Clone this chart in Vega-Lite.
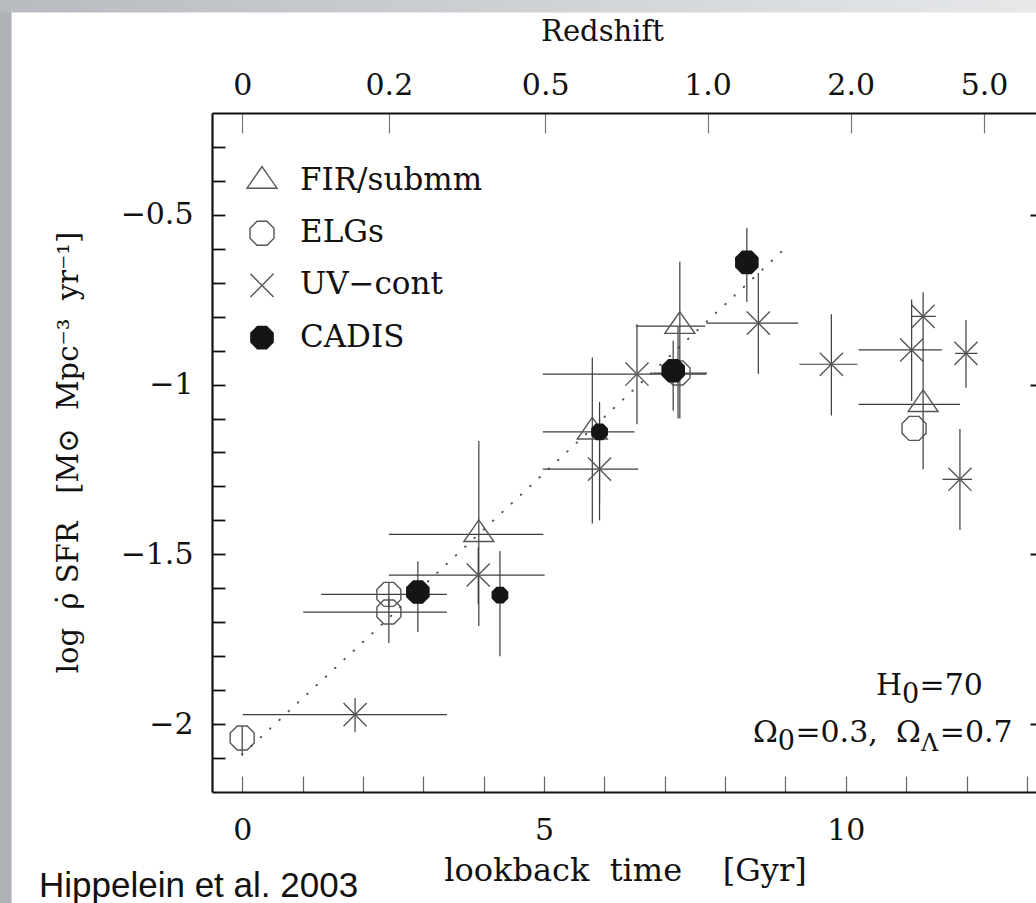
{
  "$schema": "https://vega.github.io/schema/vega-lite/v6.json",
  "width": 824,
  "height": 679,
  "autosize": {"type": "none"},
  "padding": {"left": 212, "top": 113, "right": 0, "bottom": 111},
  "background": "white",
  "config": {
    "view": {"stroke": null},
    "axis": {
      "grid": false,
      "labelFont": "DejaVu Serif",
      "labelFontSize": 30,
      "labelColor": "#111",
      "titleFont": "DejaVu Serif",
      "titleFontSize": 30,
      "titleFontWeight": "normal",
      "titleColor": "#111",
      "labelFlush": false,
      "labelOverlap": false,
      "labelBound": false
    },
    "text": {"font": "DejaVu Serif", "fontSize": 30, "color": "#111", "baseline": "alphabetic", "align": "left"}
  },
  "datasets": {
    "points": [
      {"group": "FIR/submm", "t": 3.92, "y": -1.441, "tlo": 2.43, "thi": 4.99, "ylo": -1.711, "yhi": -1.166},
      {"group": "FIR/submm", "t": 5.80, "y": -1.139, "tlo": 4.98, "thi": 6.50, "ylo": -1.409, "yhi": -0.920},
      {"group": "FIR/submm", "t": 7.25, "y": -0.828, "tlo": 6.52, "thi": 7.67, "ylo": -1.10, "yhi": -0.638},
      {"group": "FIR/submm", "t": 11.28, "y": -1.058, "tlo": 10.21, "thi": 11.89, "ylo": -1.249, "yhi": -0.87},
      {"group": "ELGs", "t": 0, "y": -2.041, "ylo": -2.09, "yhi": -2.006},
      {"group": "ELGs", "t": 2.43, "y": -1.618, "tlo": 1.31, "thi": 3.39, "ylo": -1.66, "yhi": -1.582},
      {"group": "ELGs", "t": 2.43, "y": -1.670, "tlo": 1.01, "thi": 3.39, "ylo": -1.761, "yhi": -1.63},
      {"group": "ELGs", "t": 7.22, "y": -0.966, "tlo": 6.80, "thi": 7.70, "ylo": -1.10, "yhi": -0.83},
      {"group": "ELGs", "t": 11.13, "y": -1.129},
      {"group": "UV−cont", "t": 1.87, "y": -1.972, "tlo": 0.01, "thi": 3.39, "ylo": -2.023, "yhi": -1.923},
      {"group": "UV−cont", "t": 3.91, "y": -1.561, "tlo": 2.43, "thi": 5.01, "ylo": -1.647, "yhi": -1.48},
      {"group": "UV−cont", "t": 5.92, "y": -1.249, "tlo": 4.98, "thi": 6.56, "ylo": -1.40, "yhi": -1.10},
      {"group": "UV−cont", "t": 6.54, "y": -0.969, "tlo": 4.98, "thi": 7.69, "ylo": -1.117, "yhi": -0.822},
      {"group": "UV−cont", "t": 8.55, "y": -0.819, "tlo": 7.69, "thi": 9.21, "ylo": -0.969, "yhi": -0.671},
      {"group": "UV−cont", "t": 9.76, "y": -0.940, "tlo": 9.23, "thi": 10.19, "ylo": -1.091, "yhi": -0.793},
      {"group": "UV−cont", "t": 11.09, "y": -0.898, "tlo": 10.21, "thi": 11.59, "ylo": -1.048, "yhi": -0.749},
      {"group": "UV−cont", "t": 11.28, "y": -0.799, "tlo": 11.09, "thi": 11.49, "ylo": -0.87, "yhi": -0.728},
      {"group": "UV−cont", "t": 11.99, "y": -0.908, "tlo": 11.81, "thi": 12.18, "ylo": -1.009, "yhi": -0.810},
      {"group": "UV−cont", "t": 11.89, "y": -1.279, "tlo": 11.60, "thi": 12.09, "ylo": -1.428, "yhi": -1.131},
      {"group": "CADIS", "line": "Hα", "t": 2.91, "y": -1.611, "ylo": -1.729, "yhi": -1.520},
      {"group": "CADIS", "line": "[OIII]", "t": 4.27, "y": -1.620, "ylo": -1.80, "yhi": -1.490},
      {"group": "CADIS", "line": "[OIII]", "t": 5.92, "y": -1.139, "ylo": -1.348, "yhi": -1.051},
      {"group": "CADIS", "line": "[OII]", "t": 7.14, "y": -0.959, "ylo": -1.077, "yhi": -0.871},
      {"group": "CADIS", "line": "[OII]", "t": 8.36, "y": -0.640, "ylo": -0.757, "yhi": -0.539}
    ],
    "fit": [
      {"t": 0, "y": -2.09},
      {"t": 9.0, "y": -0.598}
    ]
  },
  "resolve": {"axis": {"x": "independent", "y": "independent"}},
  "layer": [
    {
      "data": {"values": [{}]},
      "mark": {"type": "rect", "fill": "#aeb2b6"},
      "encoding": {
        "x": {"datum": -4.02, "type": "quantitative", "axis": null},
        "x2": {"datum": -3.82},
        "y": {"datum": 0.14, "type": "quantitative", "axis": null},
        "y2": {"datum": -2.53}
      }
    },
    {
      "data": {"values": [{}]},
      "mark": {"type": "rect", "fill": {"gradient": "linear", "stops": [{"offset": 0, "color": "#b7bbbf"}, {"offset": 1, "color": "#e6e8ea"}]}},
      "encoding": {
        "x": {"datum": -4.02, "type": "quantitative", "axis": null},
        "x2": {"datum": 13.2},
        "y": {"datum": 0.14, "type": "quantitative", "axis": null},
        "y2": {"datum": 0.096}
      }
    },
    {
      "data": {"name": "fit"},
      "mark": {"type": "line", "color": "#555", "strokeWidth": 2, "strokeCap": "round", "strokeDash": [0.5, 12.2]},
      "encoding": {
        "x": {
          "field": "t", "type": "quantitative",
          "scale": {"domain": [-0.5, 13.15], "nice": false, "zero": false},
          "axis": {
            "orient": "bottom",
            "values": [0, 1, 2, 3, 4, 5, 6, 7, 8, 9, 10, 11, 12, 13],
            "format": "d",
            "labelExpr": "datum.value % 5 === 0 ? datum.label : ''",
            "tickSize": -16,
            "labelPadding": 39,
            "labelBaseline": "top",
            "domainColor": "#111",
            "domainWidth": 2.2,
            "tickColor": "#666",
            "tickWidth": 1.2,
            "title": "lookback\u00a0\u00a0time\u00a0\u00a0\u00a0\u00a0[Gyr]",
            "titleFontSize": 32,
            "titleX": 413,
            "titleY": 88,
            "titleAlign": "center",
            "titleBaseline": "alphabetic"
          }
        },
        "y": {
          "field": "y", "type": "quantitative",
          "scale": {"domain": [-2.2, -0.2], "nice": false, "zero": false},
          "axis": {
            "orient": "left",
            "values": [-2.1, -2, -1.9, -1.8, -1.7, -1.6, -1.5, -1.4, -1.3, -1.2, -1.1, -1, -0.9, -0.8, -0.7, -0.6, -0.5, -0.4, -0.3],
            "format": "~g",
            "labelExpr": "indexof([-0.5, -1, -1.5, -2], datum.value) >= 0 ? datum.label : ''",
            "tickSize": -13,
            "encode": {"ticks": {"update": {"x2": {"signal": "indexof([-0.5, -1, -1.5, -2], datum.value) >= 0 ? 20 : 13"}}}},
            "labelPadding": 32,
            "domainColor": "#111",
            "domainWidth": 2.2,
            "tickColor": "#111",
            "tickWidth": 1.8,
            "title": "log\u00a0\u00a0ρ̇\u00a0SFR\u00a0\u00a0\u00a0[M⊙\u00a0\u00a0Mpc⁻³\u00a0\u00a0yr⁻¹]",
            "titleFontSize": 29,
            "titleX": -144,
            "titleY": 339,
            "titleAngle": 270,
            "titleAlign": "center",
            "titleBaseline": "middle"
          }
        }
      }
    },
    {
      "data": {"name": "points"},
      "transform": [{"filter": "isValid(datum.tlo)"}],
      "mark": {"type": "rule", "color": "#3c3c3c", "strokeWidth": 1.2},
      "encoding": {
        "x": {"field": "tlo", "type": "quantitative", "axis": null},
        "x2": {"field": "thi"},
        "y": {"field": "y", "type": "quantitative", "axis": null}
      }
    },
    {
      "data": {"name": "points"},
      "transform": [{"filter": "isValid(datum.ylo)"}],
      "mark": {"type": "rule", "color": "#3c3c3c", "strokeWidth": 1.2},
      "encoding": {
        "x": {"field": "t", "type": "quantitative", "axis": null},
        "y": {"field": "ylo", "type": "quantitative", "axis": null},
        "y2": {"field": "yhi"}
      }
    },
    {
      "data": {"name": "points"},
      "transform": [{"filter": "datum.group !== 'CADIS'"}],
      "mark": {"type": "point", "size": 900, "strokeWidth": 1.4, "opacity": 1},
      "encoding": {
        "x": {
          "field": "t", "type": "quantitative",
          "axis": {
            "orient": "top",
            "values": [0, 2.43, 5.02, 7.71, 10.08, 12.29],
            "labelExpr": "datum.value == 0 ? '0' : datum.value == 2.43 ? '0.2' : datum.value == 5.02 ? '0.5' : datum.value == 7.71 ? '1.0' : datum.value == 10.08 ? '2.0' : '5.0'",
            "tickSize": -20,
            "labelPadding": 39,
            "labelBaseline": "alphabetic",
            "domainColor": "#111",
            "domainWidth": 2.2,
            "tickColor": "#777",
            "tickWidth": 1.2,
            "title": "Redshift",
            "titleFontSize": 29,
            "titleX": 390,
            "titleY": -82,
            "titleAlign": "center",
            "titleBaseline": "middle"
          }
        },
        "y": {
          "field": "y", "type": "quantitative",
          "axis": {
            "orient": "right",
            "values": [-0.5, -1, -1.5, -2],
            "tickSize": -6,
            "labels": false,
            "domain": false,
            "tickColor": "#111",
            "tickWidth": 2,
            "title": null
          }
        },
        "shape": {
          "field": "group", "type": "nominal",
          "scale": {
            "domain": ["FIR/submm", "ELGs", "UV−cont", "CADIS"],
            "range": [
              "M0,-0.96L1,0.48L-1,0.48Z",
              "M-0.331,-0.8L0.331,-0.8L0.8,-0.331L0.8,0.331L0.331,0.8L-0.331,0.8L-0.8,0.331L-0.8,-0.331Z",
              "M-0.77,-0.77L0.77,0.77M-0.77,0.77L0.77,-0.77",
              "M-0.306,-0.74L0.306,-0.74L0.74,-0.306L0.74,0.306L0.306,0.74L-0.306,0.74L-0.74,0.306L-0.74,-0.306Z"
            ]
          },
          "legend": {
            "orient": "none",
            "legendX": 34,
            "legendY": 52,
            "title": null,
            "padding": 0,
            "symbolSize": 900,
            "symbolStrokeWidth": 1.4,
            "symbolOpacity": 1,
            "labelFont": "DejaVu Serif",
            "labelFontSize": 31,
            "labelColor": "#111",
            "labelOffset": 22,
            "labelLimit": 600,
            "rowPadding": 21.2
          }
        },
        "fill": {
          "field": "group", "type": "nominal",
          "scale": {"domain": ["FIR/submm", "ELGs", "UV−cont", "CADIS"], "range": ["transparent", "transparent", "transparent", "#151515"]}
        },
        "stroke": {
          "field": "group", "type": "nominal",
          "scale": {"domain": ["FIR/submm", "ELGs", "UV−cont", "CADIS"], "range": ["#555", "#555", "#555", "#151515"]}
        }
      }
    },
    {
      "data": {"name": "points"},
      "transform": [{"filter": "datum.group === 'CADIS'"}],
      "mark": {"type": "point", "strokeWidth": 1.4, "opacity": 1},
      "encoding": {
        "x": {"field": "t", "type": "quantitative", "axis": null},
        "y": {"field": "y", "type": "quantitative", "axis": null},
        "shape": {
          "field": "group", "type": "nominal", "legend": null,
          "scale": {
            "domain": ["FIR/submm", "ELGs", "UV−cont", "CADIS"],
            "range": [
              "M0,-0.96L1,0.48L-1,0.48Z",
              "M-0.331,-0.8L0.331,-0.8L0.8,-0.331L0.8,0.331L0.331,0.8L-0.331,0.8L-0.8,0.331L-0.8,-0.331Z",
              "M-0.77,-0.77L0.77,0.77M-0.77,0.77L0.77,-0.77",
              "M-0.306,-0.74L0.306,-0.74L0.74,-0.306L0.74,0.306L0.306,0.74L-0.306,0.74L-0.74,0.306L-0.74,-0.306Z"
            ]
          }
        },
        "fill": {
          "field": "group", "type": "nominal", "legend": null,
          "scale": {"domain": ["FIR/submm", "ELGs", "UV−cont", "CADIS"], "range": ["transparent", "transparent", "transparent", "#151515"]}
        },
        "stroke": {
          "field": "group", "type": "nominal", "legend": null,
          "scale": {"domain": ["FIR/submm", "ELGs", "UV−cont", "CADIS"], "range": ["#555", "#555", "#555", "#151515"]}
        },
        "size": {"condition": {"test": "datum.line === '[OIII]'", "value": 430}, "value": 900}
      }
    },
    {
      "data": {"values": [{}]},
      "mark": {"type": "text", "text": "H"},
      "encoding": {"x": {"datum": 10.5, "type": "quantitative", "axis": null}, "y": {"datum": -1.914, "type": "quantitative", "axis": null}}
    },
    {
      "data": {"values": [{}]},
      "mark": {"type": "text", "text": "0", "fontSize": 27},
      "encoding": {"x": {"datum": 10.93, "type": "quantitative", "axis": null}, "y": {"datum": -1.938, "type": "quantitative", "axis": null}}
    },
    {
      "data": {"values": [{}]},
      "mark": {"type": "text", "text": "=70"},
      "encoding": {"x": {"datum": 11.22, "type": "quantitative", "axis": null}, "y": {"datum": -1.914, "type": "quantitative", "axis": null}}
    },
    {
      "data": {"values": [{}]},
      "mark": {"type": "text", "text": "Ω"},
      "encoding": {"x": {"datum": 8.462, "type": "quantitative", "axis": null}, "y": {"datum": -2.052, "type": "quantitative", "axis": null}}
    },
    {
      "data": {"values": [{}]},
      "mark": {"type": "text", "text": "0", "fontSize": 27},
      "encoding": {"x": {"datum": 8.874, "type": "quantitative", "axis": null}, "y": {"datum": -2.076, "type": "quantitative", "axis": null}}
    },
    {
      "data": {"values": [{}]},
      "mark": {"type": "text", "text": "=0.3,"},
      "encoding": {"x": {"datum": 9.164, "type": "quantitative", "axis": null}, "y": {"datum": -2.052, "type": "quantitative", "axis": null}}
    },
    {
      "data": {"values": [{}]},
      "mark": {"type": "text", "text": "Ω"},
      "encoding": {"x": {"datum": 10.83, "type": "quantitative", "axis": null}, "y": {"datum": -2.052, "type": "quantitative", "axis": null}}
    },
    {
      "data": {"values": [{}]},
      "mark": {"type": "text", "text": "Λ", "fontSize": 24},
      "encoding": {"x": {"datum": 11.246, "type": "quantitative", "axis": null}, "y": {"datum": -2.078, "type": "quantitative", "axis": null}}
    },
    {
      "data": {"values": [{}]},
      "mark": {"type": "text", "text": "=0.7"},
      "encoding": {"x": {"datum": 11.556, "type": "quantitative", "axis": null}, "y": {"datum": -2.052, "type": "quantitative", "axis": null}}
    },
    {
      "data": {"values": [{}]},
      "mark": {"type": "text", "text": "Hippelein et al. 2003", "font": "Liberation Sans", "fontSize": 35},
      "encoding": {"x": {"datum": -3.366, "type": "quantitative", "axis": null}, "y": {"datum": -2.508, "type": "quantitative", "axis": null}}
    }
  ]
}
